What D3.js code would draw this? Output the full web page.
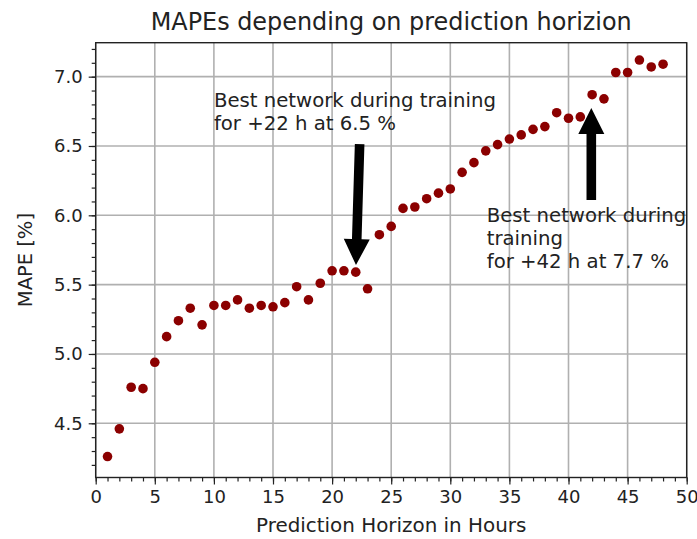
<!DOCTYPE html>
<html>
<head>
<meta charset="utf-8">
<script src="https://cdn.jsdelivr.net/npm/d3@7"></script>
<style>
  html, body { margin: 0; padding: 0; background: #fff; }
  svg { display: block; font-family: "DejaVu Sans", sans-serif; }
</style>
</head>
<body>
<svg id="chart" width="697" height="539"></svg>
<script>
// ---- data ----
const horizons = [1,2,3,4,5,6,7,8,9,10,11,12,13,14,15,16,17,18,19,20,21,22,23,24,25,26,27,28,29,30,31,32,33,34,35,36,37,38,39,40,41,42,43,44,45,46,47,48];
const mapes = [4.26,4.46,4.76,4.75,4.94,5.125,5.24,5.33,5.21,5.35,5.35,5.39,5.33,5.35,5.34,5.37,5.485,5.39,5.51,5.60,5.60,5.59,5.47,5.86,5.92,6.05,6.06,6.12,6.16,6.19,6.31,6.38,6.465,6.51,6.55,6.58,6.62,6.64,6.74,6.70,6.71,6.87,6.84,7.03,7.03,7.12,7.07,7.09];
const xTicks = [0,5,10,15,20,25,30,35,40,45,50];
const yTicks = [4.5,5.0,5.5,6.0,6.5,7.0];
const titleText = "MAPEs depending on prediction horizion";
const xLabel = "Prediction Horizon in Hours";
const yLabel = "MAPE [%]";
// annotations: text anchor (data), arrow tail (data), arrow tip (data)
const annoLines1 = ["Best network during training", "for +22 h at 6.5 %"];
const annoText1 = [10.0, 6.78];
const arrow1 = {tail: [22.33, 6.514], tip: [22.02, 5.641]};
const annoLines2 = ["Best network during", "training", "for +42 h at 7.7 %"];
const annoText2 = [33.08, 5.95];
const arrow2 = {tail: [41.93, 6.11], tip: [41.93, 6.774]};

// ---- layout ----
const svg = d3.select("#chart");
const L = 95.7, R = 686.7, T = 42.7, B = 477.5;
const x = d3.scaleLinear().domain([0, 50]).range([L, R]);
const y = d3.scaleLinear().domain([4.109, 7.245]).range([B, T]);

// grid
const g = svg.append("g");
g.selectAll("line.gx").data(xTicks).enter().append("line")
  .attr("x1", d => x(d)).attr("x2", d => x(d)).attr("y1", T).attr("y2", B)
  .attr("stroke", "#b0b0b0").attr("stroke-width", 1.6);
g.selectAll("line.gy").data(yTicks).enter().append("line")
  .attr("x1", L).attr("x2", R).attr("y1", d => y(d)).attr("y2", d => y(d))
  .attr("stroke", "#b0b0b0").attr("stroke-width", 1.6);

// points
svg.append("g").selectAll("circle").data(horizons).enter().append("circle")
  .attr("cx", (d) => x(d)).attr("cy", (d, i) => y(mapes[i])).attr("r", 4.8)
  .attr("fill", "#8b0000");

// axes
const xMinor = d3.range(0, 51, 1);
const yMinor = d3.range(42, 73, 1).map(v => v / 10);
const xAxisMinor = d3.axisBottom(x).tickValues(xMinor).tickSize(4).tickFormat("");
const xAxis = d3.axisBottom(x).tickValues(xTicks).tickSize(7).tickPadding(6).tickFormat(d3.format("d"));
const yAxisMinor = d3.axisLeft(y).tickValues(yMinor).tickSize(4).tickFormat("");
const yAxis = d3.axisLeft(y).tickValues(yTicks).tickSize(7).tickPadding(6).tickFormat(d3.format(".1f"));

function styleAxis(sel) {
  sel.select(".domain").remove();
  sel.selectAll("line").attr("stroke", "#222").attr("stroke-width", 1.2);
  sel.selectAll("text").attr("fill", "#222").attr("font-size", 18).attr("font-family", "DejaVu Sans");
}
svg.append("g").attr("transform", `translate(0,${B})`).call(xAxisMinor).call(styleAxis);
svg.append("g").attr("transform", `translate(0,${B})`).call(xAxis).call(styleAxis);
svg.append("g").attr("transform", `translate(${L},0)`).call(yAxisMinor).call(styleAxis);
svg.append("g").attr("transform", `translate(${L},0)`).call(yAxis).call(styleAxis);

// frame
svg.append("rect").attr("x", L).attr("y", T).attr("width", R - L).attr("height", B - T)
  .attr("fill", "none").attr("stroke", "#222").attr("stroke-width", 1.4);

// arrows
function drawArrow(a) {
  const x0 = x(a.tail[0]), y0 = y(a.tail[1]), x1 = x(a.tip[0]), y1 = y(a.tip[1]);
  const dx = x1 - x0, dy = y1 - y0, len = Math.hypot(dx, dy);
  const ux = dx / len, uy = dy / len, px = -uy, py = ux;
  const sw = 4.8, hw = 13, hl = 26;
  const bx = x1 - ux * hl, by = y1 - uy * hl;
  const pts = [
    [x0 + px * sw, y0 + py * sw], [bx + px * sw, by + py * sw], [bx + px * hw, by + py * hw],
    [x1, y1], [bx - px * hw, by - py * hw], [bx - px * sw, by - py * sw], [x0 - px * sw, y0 - py * sw]
  ];
  svg.append("polygon").attr("points", pts.map(p => p.join(",")).join(" ")).attr("fill", "#000");
}
drawArrow(arrow1);
drawArrow(arrow2);

// annotation texts
function drawText(lines, pos) {
  const t = svg.append("text").attr("x", x(pos[0])).attr("y", y(pos[1]))
    .attr("font-size", 19.7).attr("fill", "#222");
  lines.forEach((ln, i) => t.append("tspan").attr("x", x(pos[0])).attr("dy", i === 0 ? 0 : 22.8).text(ln));
}
drawText(annoLines1, annoText1);
drawText(annoLines2, annoText2);

// title and labels
svg.append("text").attr("x", (L + R) / 2).attr("y", 30).attr("text-anchor", "middle")
  .attr("font-size", 23.9).attr("fill", "#222").text(titleText);
svg.append("text").attr("x", (L + R) / 2).attr("y", 532).attr("text-anchor", "middle")
  .attr("font-size", 19.9).attr("fill", "#222").text(xLabel);
svg.append("text").attr("transform", `translate(32,${(T + B) / 2}) rotate(-90)`).attr("text-anchor", "middle")
  .attr("font-size", 19.5).attr("fill", "#222").text(yLabel);
</script>
</body>
</html>
